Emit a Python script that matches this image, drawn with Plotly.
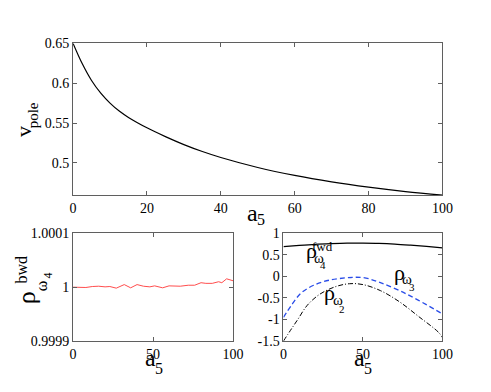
import plotly.graph_objects as go

W, H = 491, 392

# ---- data ----
a_top = [0, 2.5, 5, 7.5, 10, 12.5, 15, 20, 25, 30, 35, 40, 50, 60, 70, 80, 90, 100]
v_pole = [0.65, 0.6244, 0.6035, 0.5876, 0.5751, 0.5651, 0.5571, 0.5441, 0.5331,
          0.5231, 0.5144, 0.5069, 0.4944, 0.4844, 0.4763, 0.4697, 0.4642, 0.4597]

a_bwd = [0, 4, 8, 12, 16, 20, 23, 27, 32, 36, 40, 44, 48, 51, 56, 60, 64, 67,
         72, 76, 80, 83, 87, 91, 93, 96, 100]
rho_bwd = [1.0, 1.0, 0.9999994, 1.0000012, 1.0000018, 1.0000006, 1.0000012,
           0.9999982, 1.0000048, 0.9999988, 1.0000048, 1.0000018, 1.0000006,
           1.0000024, 0.9999988, 1.0000024, 1.0000018, 1.0000018, 1.0000036,
           1.0000036, 1.0000083, 1.0000071, 1.0000071, 1.0000101, 1.0000083,
           1.0000155, 1.0000119]

a_fwd = [0, 10, 20, 30, 40, 50, 60, 70, 80, 90, 100]
rho_fwd = [0.69, 0.72, 0.745, 0.76, 0.77, 0.77, 0.765, 0.75, 0.725, 0.695, 0.66]

a_w3 = [0, 5, 11, 19, 29, 39, 45, 52, 61, 73, 85, 100]
rho_w3 = [-0.95, -0.67, -0.39, -0.205, -0.086, -0.035, -0.02, -0.04, -0.146,
          -0.33, -0.555, -0.87]

a_w2 = [0, 5, 9, 15, 23, 33, 41.5, 50, 61, 73, 85, 97.6, 100]
rho_w2 = [-1.5, -1.22, -1.0, -0.67, -0.41, -0.235, -0.17, -0.19, -0.33, -0.59,
          -0.93, -1.3, -1.42]

top_xticks = [0, 20, 40, 60, 80, 100]
top_yticks = [0.5, 0.55, 0.6, 0.65]
top_yticktext = ["0.5", "0.55", "0.6", "0.65"]
bl_yticks = [0.9999, 1.0, 1.0001]
bl_yticktext = ["0.9999", "1", "1.0001"]
bot_xticks = [0, 50, 100]
br_yticks = [-1.5, -1, -0.5, 0, 0.5, 1]
br_yticktext = ["-1.5", "-1", "-0.5", "0", "0.5", "1"]

FONT = "Liberation Serif"
AXC = "#5f5f5f"


def px(x):
    return x / W


def py(y):
    return 1 - y / H


fig = go.Figure()
fig.add_trace(go.Scatter(x=a_top, y=v_pole, mode="lines", line=dict(color="black", width=1.2, shape="spline"),
                         xaxis="x", yaxis="y", showlegend=False))
fig.add_trace(go.Scatter(x=a_bwd, y=rho_bwd, mode="lines", line=dict(color="#ff4d4d", width=1),
                         xaxis="x2", yaxis="y2", showlegend=False))
fig.add_trace(go.Scatter(x=a_fwd, y=rho_fwd, mode="lines", line=dict(color="black", width=1.3, shape="spline"),
                         xaxis="x3", yaxis="y3", showlegend=False))
fig.add_trace(go.Scatter(x=a_w3, y=rho_w3, mode="lines",
                         line=dict(color="#2a4de8", width=1.3, dash="5px,3px", shape="spline"),
                         xaxis="x3", yaxis="y3", showlegend=False))
fig.add_trace(go.Scatter(x=a_w2, y=rho_w2, mode="lines",
                         line=dict(color="black", width=1, dash="5px,2px,1px,2px", shape="spline"),
                         xaxis="x3", yaxis="y3", showlegend=False))

ax_common = dict(showline=True, linecolor=AXC, linewidth=1, mirror="ticks", ticks="inside",
                 ticklen=4, tickcolor=AXC, showgrid=False, zeroline=False,
                 tickfont=dict(family=FONT, size=14, color="black"))

fig.update_layout(
    width=W, height=H, margin=dict(l=0, r=0, t=0, b=0),
    paper_bgcolor="white", plot_bgcolor="white",
    font=dict(family=FONT),
    xaxis=dict(domain=[px(63), px(444)], range=[0, 100], tickvals=top_xticks, anchor="y", **ax_common),
    yaxis=dict(domain=[py(187.3), py(29.5)], range=[0.4597, 0.65], tickvals=top_yticks, anchor="x",
               ticktext=top_yticktext, **ax_common),
    xaxis2=dict(domain=[px(63), px(228)], range=[0, 100], tickvals=bot_xticks, anchor="y2", **ax_common),
    yaxis2=dict(domain=[py(339), py(227)], range=[0.9999, 1.0001], tickvals=bl_yticks,
                ticktext=bl_yticktext, anchor="x2", **ax_common),
    xaxis3=dict(domain=[px(280), px(444)], range=[0, 100], tickvals=bot_xticks, anchor="y3", **ax_common),
    yaxis3=dict(domain=[py(339), py(227)], range=[-1.5, 1], tickvals=br_yticks,
                ticktext=br_yticktext, anchor="x3", **ax_common),
)


def ann(text, x, y, size, angle=0):
    fig.add_annotation(text=text, x=px(x), y=py(y), xref="paper", yref="paper",
                       showarrow=False, font=dict(family=FONT, size=size, color="black"),
                       textangle=angle, xanchor="center", yanchor="middle")


# axis titles
ann("v", 12, 121, 22, -90)
ann("pole", 22, 104, 15, -90)
ann("a", 248, 206, 24)
ann("5", 257, 213, 16)
ann("a", 143, 357, 24)
ann("5", 152, 368, 16)
ann("a", 358, 357, 24)
ann("5", 367, 368, 16)

# rho bwd label (rotated, composed)
ann("ρ", 15, 294, 26, -90)
ann("bwd", 10, 265, 16, -90)
ann("ω", 30, 282, 16, -90)
ann("4", 37, 271, 12, -90)

# curve labels in right panel
ann("ρ", 308.5, 245, 22)
ann("fwd", 320, 241, 13)
ann("ω", 316.5, 253, 15)
ann("4", 321, 259.5, 11)

ann("ρ", 399.5, 268, 22)
ann("ω", 407.5, 274.5, 15)
ann("3", 412.5, 283, 11)

ann("ρ", 327.5, 289, 22)
ann("ω", 336, 296, 15)
ann("2", 340.5, 306, 11)

fig.write_html("out.html")
